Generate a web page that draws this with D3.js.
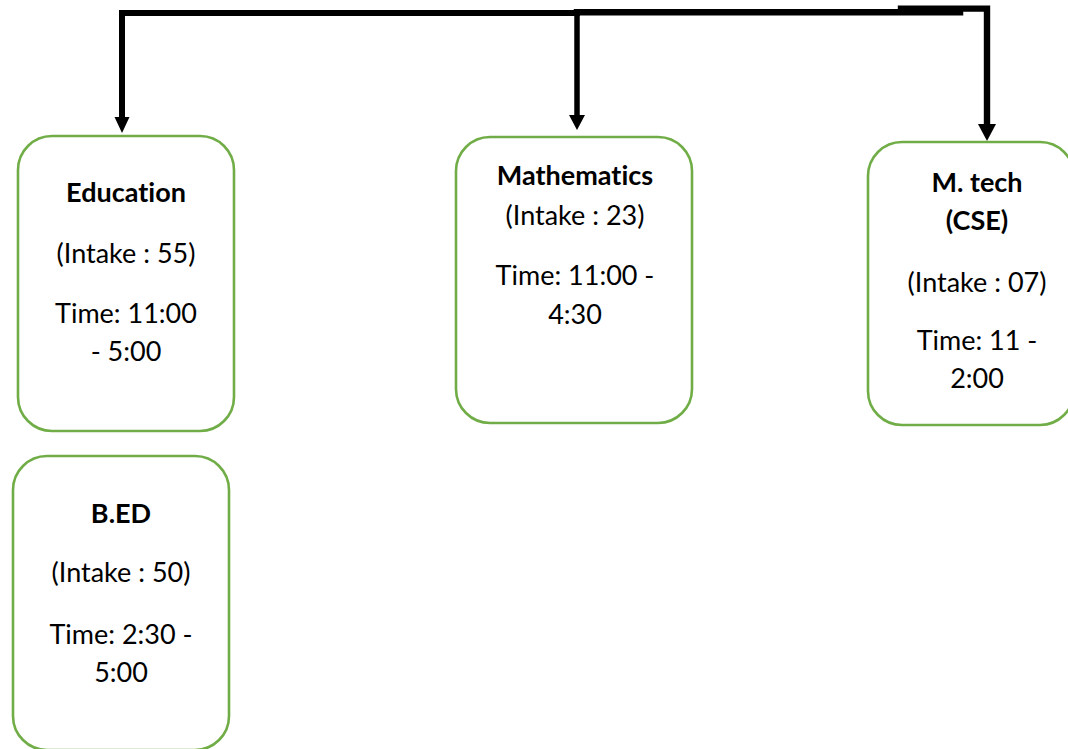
<!DOCTYPE html>
<html>
<head>
<meta charset="utf-8">
<script src="https://cdn.jsdelivr.net/npm/d3@7"></script>
<style>
  html, body { margin: 0; padding: 0; background: #fff; }
  svg { display: block; }
  text { font-family: Lato, "Open Sans", sans-serif; fill: #000; font-variant-ligatures: none; }
</style>
</head>
<body>
<div id="chart"></div>
<script>
// departments shown in the chart
var titles = [["Education"], ["B.ED"], ["Mathematics"], ["M. tech", "(CSE)"]];
var intakes = ["55", "50", "23", "07"];
var timeLines = [
    ["Time: 11:00", "- 5:00"],
    ["Time: 2:30 -", "5:00"],
    ["Time: 11:00 -", "4:30"],
    ["Time: 11 -", "2:00"]
];

var width = 1068, height = 749;
var fontSize = 27;
var green = "#70ad47";

// box layout: x, y, w, h, text centre, baseline offsets from top
var layout = [
    { x: 18, y: 136, w: 216, h: 295, cx: 126, lines: [66, 127, 187, 225] },
    { x: 13, y: 456, w: 216, h: 294, cx: 121, lines: [67, 126, 188, 226] },
    { x: 456, y: 137, w: 236, h: 286, cx: 575, lines: [48, 88, 148, 187] },
    { x: 868, y: 142, w: 206, h: 283, cx: 977, lines: [50, 88, 150, 208, 246] }
];

var nodes = titles.map(function (t, i) {
    var rows = t.map(function (s) { return { text: s, bold: true }; });
    rows.push({ text: "(Intake : " + intakes[i] + ")", bold: false });
    timeLines[i].forEach(function (s) { rows.push({ text: s, bold: false }); });
    return { rows: rows, box: layout[i] };
});

var svg = d3.select("#chart").append("svg")
    .attr("width", width)
    .attr("height", height);

// connectors (drawn first so boxes sit on top)
var connectors = [
    { pts: [[577, 13], [122, 13], [122, 119]], w: 6, head: { x: 122, y: 133, len: 16, half: 7.5 } },
    { pts: [[577, 12], [577, 116]], w: 5.5, head: { x: 577, y: 130, len: 15, half: 8 } },
    { pts: [[577, 12.2], [960, 12.2]], w: 6.5, head: null },
    { pts: [[901, 8.6], [987, 8.6], [987, 125]], w: 6.4, head: { x: 987, y: 141, len: 17, half: 9 } }
];

var line = d3.line();

svg.selectAll(".conn")
    .data(connectors)
    .enter().append("path")
    .attr("class", "conn")
    .attr("d", function (d) { return line(d.pts); })
    .attr("fill", "none")
    .attr("stroke", "#000")
    .attr("stroke-width", function (d) { return d.w; })
    .attr("stroke-linejoin", "miter")
    .attr("stroke-linecap", "square");

svg.selectAll(".head")
    .data(connectors.filter(function (d) { return d.head; }))
    .enter().append("path")
    .attr("class", "head")
    .attr("d", function (d) {
        var h = d.head;
        var p = d3.path();
        p.moveTo(h.x - h.half, h.y - h.len);
        p.lineTo(h.x + h.half, h.y - h.len);
        p.lineTo(h.x, h.y);
        p.closePath();
        return p.toString();
    })
    .attr("fill", "#000");

var g = svg.selectAll(".node")
    .data(nodes)
    .enter().append("g")
    .attr("class", "node");

g.append("rect")
    .attr("x", function (d) { return d.box.x; })
    .attr("y", function (d) { return d.box.y; })
    .attr("width", function (d) { return d.box.w; })
    .attr("height", function (d) { return d.box.h; })
    .attr("rx", 34)
    .attr("ry", 34)
    .attr("fill", "#fff")
    .attr("stroke", green)
    .attr("stroke-width", 2.6);

g.each(function (d) {
    d3.select(this).selectAll("text")
        .data(d.rows)
        .enter().append("text")
        .attr("x", d.box.cx)
        .attr("y", function (r, j) { return d.box.y + d.box.lines[j]; })
        .attr("text-anchor", "middle")
        .attr("font-size", fontSize)
        .attr("font-weight", function (r) { return r.bold ? 700 : 400; })
        .text(function (r) { return r.text; });
});
</script>
</body>
</html>
